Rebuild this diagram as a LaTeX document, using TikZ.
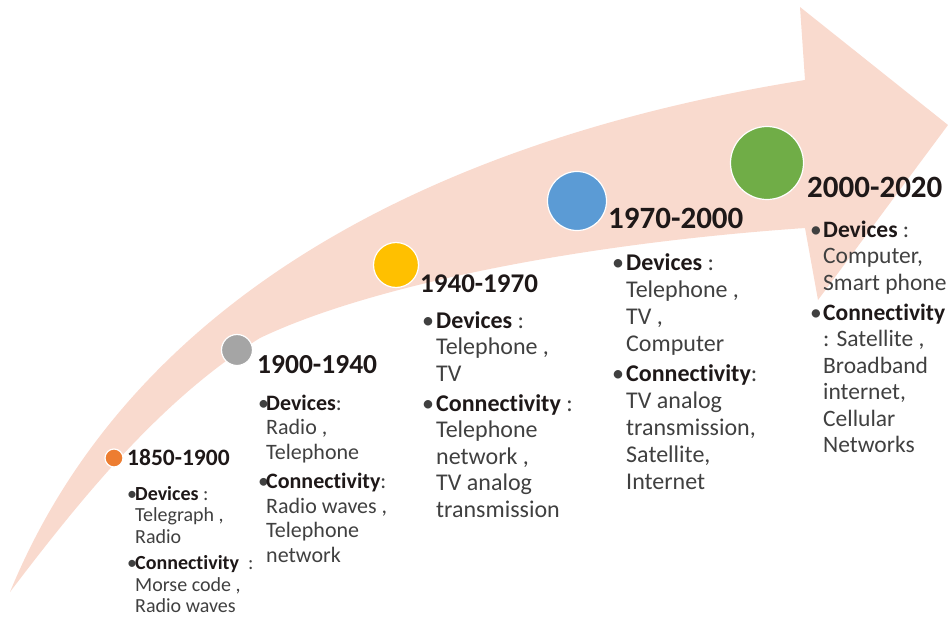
\documentclass[tikz,border=0pt]{standalone}
\usepackage{fontspec}
\setmainfont[Ligatures=NoCommon]{Carlito}
\usepackage{tikz}
\usepackage{xcolor}
\definecolor{arrowpink}{RGB}{249,218,206}
\definecolor{dotorange}{RGB}{237,125,49}
\definecolor{dotgray}{RGB}{165,165,165}
\definecolor{dotyellow}{RGB}{255,192,0}
\definecolor{dotblue}{RGB}{91,155,213}
\definecolor{dotgreen}{RGB}{112,173,71}
\definecolor{bodytext}{RGB}{64,64,64}
\definecolor{headtext}{RGB}{30,24,24}
\tikzset{
	dot/.style={circle, draw=white, line width=1.2pt, inner sep=0pt},
	year/.style={anchor=base west, inner sep=0pt, text=headtext},
	info/.style={anchor=base west, inner sep=0pt, text=bodytext},
}
\newcommand{\hd}[1]{\textcolor{headtext}{\textbf{#1}}}
\newcommand{\bul}[1]{\makebox[#1][l]{\textbullet}}

\begin{document}
\begin{tikzpicture}[x=1pt,y=-1pt]
            \useasboundingbox (0,0) rectangle (948,616);
            % the big curved arrow
            \fill[arrowpink] (10,592) .. controls (130,300) and (430,140) .. (805,80)
                -- (800,7) -- (948,125) -- (818,300) -- (805,228)
                .. controls (560,245) and (360,290) .. (260,338)
                .. controls (160,400) and (80,500) .. (10,592) -- cycle;
            % milestones
            \node[dot, fill=dotorange, minimum size=18pt] (c1) at (114,458) {};
            \node[dot, fill=dotgray, minimum size=31pt] (c2) at (237,350) {};
            \node[dot, fill=dotyellow, minimum size=45pt] (c3) at (396,265) {};
            \node[dot, fill=dotblue, minimum size=59pt] (c4) at (577,201) {};
            \node[dot, fill=dotgreen, minimum size=73pt] (c5) at (767,163) {};
            % periods
            \node[year, font=\bfseries\fontsize{23.5}{28}\selectfont] (t1) at (127,465) {1850-1900};
            \node[year, font=\bfseries\fontsize{27.5}{32}\selectfont] (t2) at (257,373) {1900-1940};
            \node[year, font=\bfseries\fontsize{27}{32}\selectfont] (t3) at (420,292) {1940-1970};
            \node[year, font=\bfseries\fontsize{31}{36}\selectfont] (t4) at (608,228) {1970-2000};
            \node[year, font=\bfseries\fontsize{31}{36}\selectfont] (t5) at (807,197) {2000-2020};
            % devices and connectivity
            \node[info, font=\fontsize{20}{21.5}\selectfont] (b1) at (127,500) {%
                \begin{tabular}[t]{@{}l@{}l@{}}
                \bul{8pt} & \hd{Devices} : \\
                 & Telegraph , \\
                 & Radio \\[5pt]
                \bul{8pt} & \hd{Connectivity} \ : \\
                 & Morse code , \\
                 & Radio waves
                \end{tabular}};
            \node[info, font=\fontsize{22}{24.5}\selectfont] (b2) at (258,410) {%
                \begin{tabular}[t]{@{}l@{}l@{}}
                \bul{8pt} & \hd{Devices}: \\
                 & Radio , \\
                 & Telephone \\[5pt]
                \bul{8pt} & \hd{Connectivity}: \\
                 & Radio waves , \\
                 & Telephone \\
                 & network
                \end{tabular}};
            \node[info, font=\fontsize{24}{26.5}\selectfont] (b3) at (422,328) {%
                \begin{tabular}[t]{@{}l@{}l@{}}
                \bul{14pt} & \hd{Devices} : \\
                 & Telephone , \\
                 & TV \\[3.5pt]
                \bul{14pt} & \hd{Connectivity} : \\
                 & Telephone \\
                 & network , \\
                 & TV analog \\
                 & transmission
                \end{tabular}};
            \node[info, font=\fontsize{24}{27}\selectfont] (b4) at (612,270) {%
                \begin{tabular}[t]{@{}l@{}l@{}}
                \bul{14pt} & \hd{Devices} : \\
                 & Telephone , \\
                 & TV , \\
                 & Computer \\[3pt]
                \bul{14pt} & \hd{Connectivity}: \\
                 & TV analog \\
                 & transmission, \\
                 & Satellite, \\
                 & Internet
                \end{tabular}};
            \node[info, font=\fontsize{23.5}{26.5}\selectfont] (b5) at (810,237) {%
                \begin{tabular}[t]{@{}l@{}l@{}}
                \bul{13pt} & \hd{Devices} : \\
                 & Computer, \\
                 & Smart phone \\[3.5pt]
                \bul{13pt} & \hd{Connectivity} \\
                 & : Satellite , \\
                 & Broadband \\
                 & internet, \\
                 & Cellular \\
                 & Networks
                \end{tabular}};
        \end{tikzpicture}
\end{document}
